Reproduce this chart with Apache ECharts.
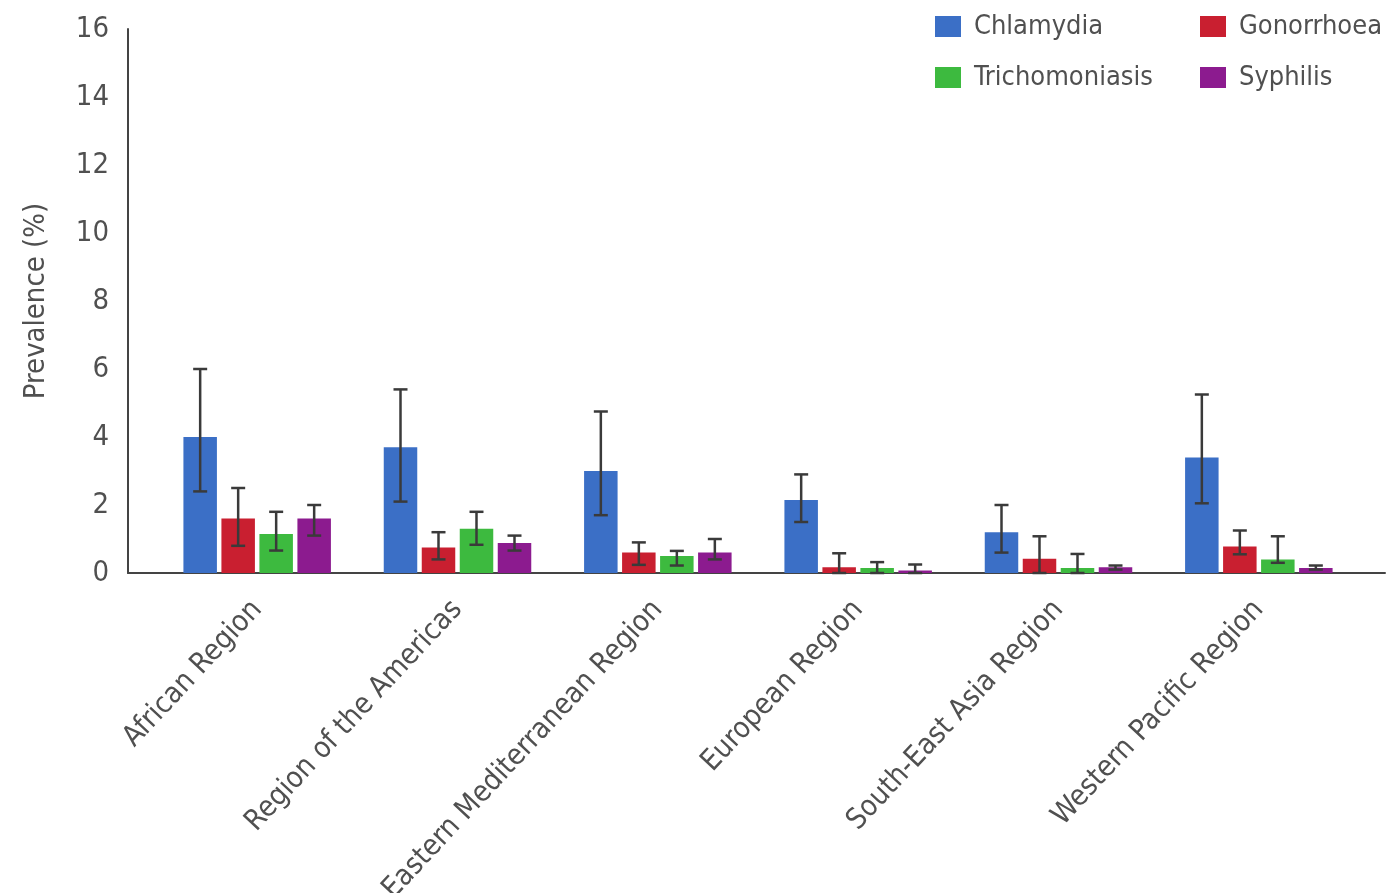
<!DOCTYPE html>
<html>
<head>
<meta charset="utf-8">
<script src="https://cdn.jsdelivr.net/npm/echarts@6/dist/echarts.min.js"></script>
<style>
  html, body { margin: 0; padding: 0; background: #fff; }
  #main { width: 1396px; height: 893px; }
</style>
</head>
<body>
<div id="main"></div>
<script>
// regions (x axis)
const regions = ['African Region', 'Region of the Americas', 'Eastern Mediterranean Region',
  'European Region', 'South-East Asia Region', 'Western Pacific Region'];
const yTicks = [0, 2, 4, 6, 8, 10, 12, 14, 16];

// prevalence (%) and the error bar ends
const chlamydia     = [4.0, 3.7, 3.0, 2.15, 1.2, 3.4];
const chlamydiaLow  = [2.4, 2.1, 1.7, 1.5, 0.6, 2.05];
const chlamydiaHigh = [6.0, 5.4, 4.75, 2.9, 2.0, 5.25];

const gonorrhoea     = [1.6, 0.75, 0.6, 0.17, 0.42, 0.78];
const gonorrhoeaLow  = [0.8, 0.4, 0.24, 0, 0, 0.55];
const gonorrhoeaHigh = [2.5, 1.2, 0.9, 0.58, 1.08, 1.25];

const trichomoniasis     = [1.15, 1.3, 0.5, 0.15, 0.15, 0.4];
const trichomoniasisLow  = [0.66, 0.83, 0.22, 0, 0, 0.3];
const trichomoniasisHigh = [1.8, 1.8, 0.65, 0.32, 0.56, 1.08];

const syphilis     = [1.6, 0.88, 0.6, 0.07, 0.17, 0.15];
const syphilisLow  = [1.1, 0.66, 0.4, 0, 0.1, 0.1];
const syphilisHigh = [2.0, 1.1, 1.0, 0.25, 0.22, 0.22];

const FONT = "'Liberation Sans Narrow', 'DejaVu Sans Condensed', sans-serif";
const TEXT = '#505050';
const BAR_W = 33.5;
const BAR_GAP = 4.5;

const diseases = [
  { name: 'Chlamydia', color: '#3b6fc6', val: chlamydia, low: chlamydiaLow, high: chlamydiaHigh },
  { name: 'Gonorrhoea', color: '#c91f30', val: gonorrhoea, low: gonorrhoeaLow, high: gonorrhoeaHigh },
  { name: 'Trichomoniasis', color: '#3dba3f', val: trichomoniasis, low: trichomoniasisLow, high: trichomoniasisHigh },
  { name: 'Syphilis', color: '#8c1b8f', val: syphilis, low: syphilisLow, high: syphilisHigh }
];

// error bars drawn next to each bar (offset within the group)
function errorBars(idx) {
  const offset = (idx - 1.5) * (BAR_W + BAR_GAP);
  return function (params, api) {
    const cat = api.value(0);
    const lo = api.coord([cat, api.value(1)]);
    const hi = api.coord([cat, api.value(2)]);
    const x = lo[0] + offset;
    const cap = 7;
    const style = { stroke: '#3a3a3a', lineWidth: 2.5 };
    return {
      type: 'group',
      children: [
        { type: 'line', shape: { x1: x, y1: lo[1], x2: x, y2: hi[1] }, style },
        { type: 'line', shape: { x1: x - cap, y1: hi[1], x2: x + cap, y2: hi[1] }, style },
        { type: 'line', shape: { x1: x - cap, y1: lo[1], x2: x + cap, y2: lo[1] }, style }
      ]
    };
  };
}

const chart = echarts.init(document.getElementById('main'));

const series = [];
diseases.forEach((d, i) => {
  series.push({
    name: d.name,
    type: 'bar',
    xAxisIndex: 0,
    yAxisIndex: 0,
    barWidth: BAR_W,
    barGap: (BAR_GAP / BAR_W * 100) + '%',
    itemStyle: { color: d.color },
    data: d.val
  });
});
diseases.forEach((d, i) => {
  series.push({
    type: 'custom',
    xAxisIndex: 0,
    yAxisIndex: 0,
    z: 5,
    renderItem: errorBars(i),
    data: regions.map((r, k) => [k, d.low[k], d.high[k]])
  });
});

const legendCommon = {
  orient: 'vertical',
  itemWidth: 26,
  itemHeight: 21,
  itemGap: 24,
  icon: 'rect',
  textStyle: { fontFamily: FONT, fontSize: 27, color: TEXT, padding: [0, 0, 0, 8] }
};

const option = {
  animation: false,
  textStyle: { fontFamily: FONT },
  legend: [
    Object.assign({ left: 930, top: 8, data: ['Chlamydia', 'Trichomoniasis'] }, legendCommon),
    Object.assign({ left: 1195, top: 8, data: ['Gonorrhoea', 'Syphilis'] }, legendCommon)
  ],
  grid: [
    { left: 157, width: 1202, top: 29, height: 544, outerBoundsMode: 'none', containLabel: false },
    { left: 128, width: 1257, top: 29, height: 544, outerBoundsMode: 'none', containLabel: false }
  ],
  xAxis: [
    {
      type: 'category',
      gridIndex: 0,
      data: regions,
      axisLine: { show: false },
      axisTick: { show: false },
      axisLabel: {
        rotate: 47,
        interval: 0,
        margin: 32,
        fontFamily: FONT,
        fontSize: 29,
        color: TEXT
      }
    },
    {
      type: 'category',
      gridIndex: 1,
      data: [],
      axisLine: { show: true, lineStyle: { color: '#444', width: 2 } },
      axisTick: { show: false },
      axisLabel: { show: false }
    }
  ],
  yAxis: [
    {
      type: 'value',
      gridIndex: 0,
      min: 0,
      max: 16,
      interval: 2,
      show: false
    },
    {
      type: 'value',
      gridIndex: 1,
      min: 0,
      max: 16,
      interval: 2,
      name: 'Prevalence (%)',
      nameLocation: 'middle',
      nameGap: 77,
      nameTextStyle: { fontFamily: FONT, fontSize: 29, color: TEXT },
      axisLine: { show: true, lineStyle: { color: '#444', width: 2 } },
      axisTick: { show: false },
      splitLine: { show: false },
      axisLabel: {
        margin: 19,
        fontFamily: FONT,
        fontSize: 29,
        color: TEXT,
        formatter: v => (yTicks.indexOf(v) >= 0 ? String(v) : '')
      }
    }
  ],
  series: series
};

chart.setOption(option);
window.addEventListener('resize', () => chart.resize());
</script>
</body>
</html>
